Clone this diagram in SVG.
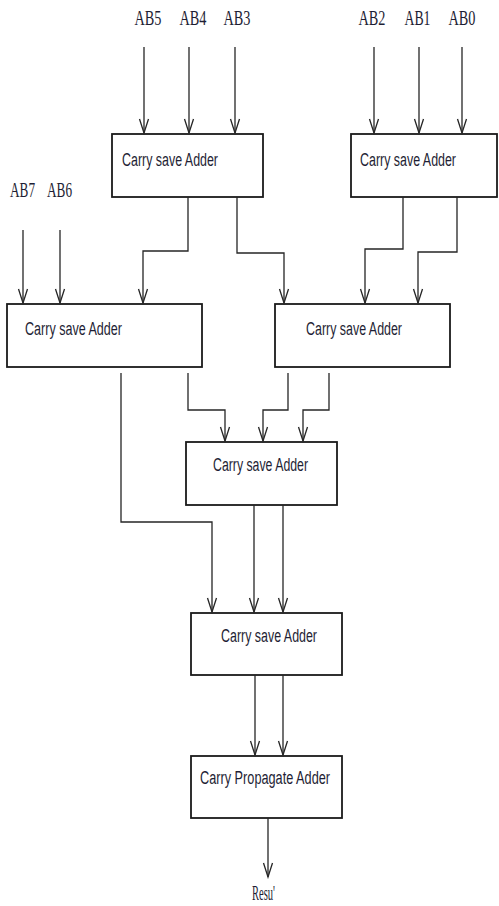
<svg xmlns="http://www.w3.org/2000/svg" width="499" height="906" viewBox="0 0 499 906">
  <style>
    .box { fill: #ffffff; stroke: #1a1a1a; stroke-width: 1.8; }
    .wire { fill: none; stroke: #262626; stroke-width: 1.3; marker-end: url(#vhead); }
    .lbl { font-family: "Liberation Sans", Arial, sans-serif; font-size: 18px; fill: #1e1e34; }
    .sig { font-family: "Liberation Serif", "Times New Roman", serif; font-size: 20px; fill: #1e1e34; }
  </style>
  <defs>
    <!-- open V arrowhead, tip at the end of the wire -->
    <marker id="vhead" markerUnits="userSpaceOnUse" markerWidth="18" markerHeight="12" viewBox="-16 -6 18 12" refX="0" refY="0" orient="auto">
      <path d="M-14,-4.5 L0,0 L-14,4.5" fill="none" stroke="#262626" stroke-width="1.3"/>
    </marker>
  </defs>
  <rect width="499" height="906" fill="#ffffff"/>

  <!-- input labels -->
  <g id="inputs">
    <text class="sig" x="134.5" y="25" textLength="27" lengthAdjust="spacingAndGlyphs">AB5</text>
    <text class="sig" x="179.5" y="25" textLength="27" lengthAdjust="spacingAndGlyphs">AB4</text>
    <text class="sig" x="223.5" y="25" textLength="27" lengthAdjust="spacingAndGlyphs">AB3</text>
    <text class="sig" x="358.5" y="25" textLength="27" lengthAdjust="spacingAndGlyphs">AB2</text>
    <text class="sig" x="404.5" y="25" textLength="26" lengthAdjust="spacingAndGlyphs">AB1</text>
    <text class="sig" x="448.5" y="25" textLength="27" lengthAdjust="spacingAndGlyphs">AB0</text>
    <text class="sig" x="10" y="197" textLength="25" lengthAdjust="spacingAndGlyphs">AB7</text>
    <text class="sig" x="47" y="197" textLength="25" lengthAdjust="spacingAndGlyphs">AB6</text>
  </g>

  <!-- adder blocks -->
  <g id="csa1">
    <rect class="box" x="112" y="134" width="151" height="63"/>
    <text class="lbl" x="122" y="166" textLength="96" lengthAdjust="spacingAndGlyphs">Carry save Adder</text>
  </g>
  <g id="csa2">
    <rect class="box" x="351" y="134" width="146" height="63"/>
    <text class="lbl" x="360" y="166" textLength="96" lengthAdjust="spacingAndGlyphs">Carry save Adder</text>
  </g>
  <g id="csa3">
    <rect class="box" x="7" y="304" width="195" height="63"/>
    <text class="lbl" x="25" y="335" textLength="97" lengthAdjust="spacingAndGlyphs">Carry save Adder</text>
  </g>
  <g id="csa4">
    <rect class="box" x="275" y="304" width="175" height="63"/>
    <text class="lbl" x="306" y="335" textLength="96" lengthAdjust="spacingAndGlyphs">Carry save Adder</text>
  </g>
  <g id="csa5">
    <rect class="box" x="186" y="442" width="151" height="63"/>
    <text class="lbl" x="213" y="471" textLength="95" lengthAdjust="spacingAndGlyphs">Carry save Adder</text>
  </g>
  <g id="csa6">
    <rect class="box" x="191" y="613" width="151" height="62"/>
    <text class="lbl" x="221" y="642" textLength="96" lengthAdjust="spacingAndGlyphs">Carry save Adder</text>
  </g>
  <g id="cpa">
    <rect class="box" x="191" y="756" width="151" height="62"/>
    <text class="lbl" x="200" y="784" textLength="130" lengthAdjust="spacingAndGlyphs">Carry Propagate Adder</text>
  </g>
  <g id="result">
    <text class="sig" x="252" y="900" textLength="23" lengthAdjust="spacingAndGlyphs">Resu'</text>
  </g>

  <!-- connectors -->
  <g id="connectors">
    <path class="wire" d="M144,47 V133"/>
    <path class="wire" d="M189,47 V133"/>
    <path class="wire" d="M235,47 V133"/>
    <path class="wire" d="M374,47 V133"/>
    <path class="wire" d="M419,47 V133"/>
    <path class="wire" d="M462,47 V133"/>
    <path class="wire" d="M23,230 V303"/>
    <path class="wire" d="M60,230 V303"/>
    <path class="wire" d="M188,197 V251 H143 V303"/>
    <path class="wire" d="M237,197 V253 H284 V303"/>
    <path class="wire" d="M403,197 V249 H365 V303"/>
    <path class="wire" d="M457,197 V252 H418 V303"/>
    <path class="wire" d="M121,373 V522 H212 V612"/>
    <path class="wire" d="M188,373 V410 H225 V441"/>
    <path class="wire" d="M288,373 V410 H263 V441"/>
    <path class="wire" d="M329,373 V410 H303 V441"/>
    <path class="wire" d="M254,505 V612"/>
    <path class="wire" d="M283,505 V612"/>
    <path class="wire" d="M255,675 V755"/>
    <path class="wire" d="M283,675 V755"/>
    <path class="wire" d="M268,818 V877"/>
  </g>
</svg>
